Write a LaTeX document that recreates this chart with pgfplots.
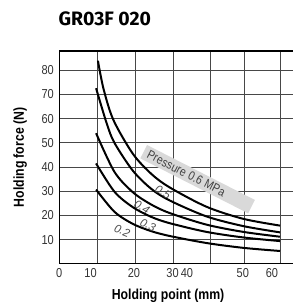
\documentclass[border=0pt]{standalone}
\usepackage{fontspec}
\setmainfont{Liberation Sans}
\newfontfamily\titlefont{Fira Sans}
\usepackage{graphicx}
\usepackage{pgfplots}
\pgfplotsset{compat=1.18}
\begin{document}
\begin{tikzpicture}
\begin{axis}[
  scale only axis,
  width=235.4bp, height=212.8bp,
  xmin=0, xmax=64, ymin=0, ymax=88,
  axis lines=box,
  axis line style={black, line width=1.1bp},
  xtick={10.3,20.7,31.0,41.0,50.3,60},
  xticklabels={},
  ytick={10,20,...,80},
  major tick length=0pt,
  xmajorgrids=true, ymajorgrids=true,
  major grid style={draw=black!72, line width=0.8bp},
  extra x ticks={0,8.5,20.3,30.8,34.7,49.9,57.8},
  extra x tick labels={0,10,20,30,40,50,60},
  extra x tick style={xmajorgrids=false, major tick length=0pt},
  /pgf/number format/assume math mode=true,
  tick label style={font=\fontsize{13}{13}\selectfont, text=black!80, xscale=0.85},
  xticklabel style={yshift=-1bp},
  yticklabel style={xshift=-3bp},
  xlabel={\scalebox{0.85}[1]{\bfseries Holding point (mm)}},
  ylabel={\scalebox{0.85}[1]{\bfseries Holding force (N)}},
  label style={font=\fontsize{14.5}{14.5}\selectfont},
  x label style={at={(axis description cs:0.462,-0.1692)}, anchor=base},
  y label style={at={(axis description cs:-0.150,0.5)}, anchor=base},
  title={\titlefont\bfseries GR03F 020},
  title style={at={(axis description cs:-0.018,1.1175)}, anchor=base west, font=\fontsize{19.5}{19.5}\selectfont, yshift=-5bp},
  clip=false,
]
\addplot[black, line width=2bp, smooth] coordinates {(10.5,84) (12,72.5) (14.7,59.5) (20,45.5) (25,37.2) (30,31.6) (40,23.6) (50,18.6) (60,15.8)};
\addplot[black, line width=2bp, smooth] coordinates {(10,72.6) (12.9,58) (15,50) (20,38.5) (25,31) (30,26.2) (40,19.6) (50,15.6) (60,13)};
\addplot[black, line width=2bp, smooth] coordinates {(10,54) (15,38) (20,29.6) (25,24.5) (30,21) (40,16.2) (50,13.2) (60,11.2)};
\addplot[black, line width=2bp, smooth] coordinates {(10,41.5) (15,29.8) (20,23.4) (25,19.4) (30,16.8) (40,13.2) (50,10.9) (60,9.4)};
\addplot[black, line width=2bp, smooth] coordinates {(10,30.7) (15,21.5) (20,16.5) (25,13.5) (30,11.5) (40,8.6) (50,6.6) (60,5.3)};
\node[fill=black!15, rotate=-27, inner xsep=5bp, inner ysep=0bp, text width=111bp, align=left, minimum height=15bp, text=black!75, font=\fontsize{12.5}{12.5}\selectfont] at (axis cs:37.6,35.0) {\scalebox{0.85}[1]{Pressure 0.6 MPa}};
\node[rotate=-30, text=black!70, font=\itshape\fontsize{11.5}{11.5}\selectfont] at (axis cs:28.2,29.7) {0.5};
\node[rotate=-30, text=black!70, font=\itshape\fontsize{11.5}{11.5}\selectfont] at (axis cs:22.5,23.5) {0.4};
\node[rotate=-25, text=black!70, font=\itshape\fontsize{11.5}{11.5}\selectfont] at (axis cs:24.1,16.1) {0.3};
\node[rotate=-22, text=black!70, font=\itshape\fontsize{11.5}{11.5}\selectfont] at (axis cs:17.1,13.6) {0.2};
\end{axis}
\pgfresetboundingbox
\path (-59.3bp,-43.2bp) rectangle (233.7bp,263.8bp);
\end{tikzpicture}
\end{document}
